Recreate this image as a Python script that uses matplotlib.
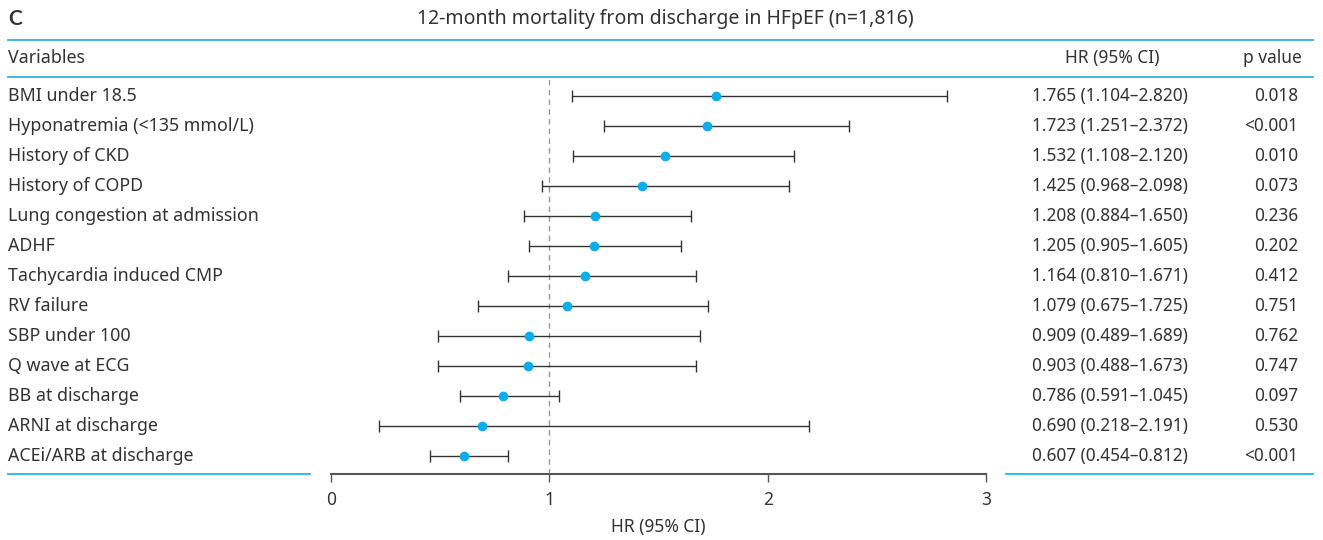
import numpy as np
import matplotlib.pyplot as plt
from matplotlib.lines import Line2D

variables = ["BMI under 18.5", "Hyponatremia (<135 mmol/L)", "History of CKD", "History of COPD",
             "Lung congestion at admission", "ADHF", "Tachycardia induced CMP", "RV failure",
             "SBP under 100", "Q wave at ECG", "BB at discharge", "ARNI at discharge",
             "ACEi/ARB at discharge"]
hr = [1.765, 1.723, 1.532, 1.425, 1.208, 1.205, 1.164, 1.079, 0.909, 0.903, 0.786, 0.690, 0.607]
lo = [1.104, 1.251, 1.108, 0.968, 0.884, 0.905, 0.810, 0.675, 0.489, 0.488, 0.591, 0.218, 0.454]
hi = [2.820, 2.372, 2.120, 2.098, 1.650, 1.605, 1.671, 1.725, 1.689, 1.673, 1.045, 2.191, 0.812]
pvals = ["0.018", "<0.001", "0.010", "0.073", "0.236", "0.202", "0.412", "0.751",
         "0.762", "0.747", "0.097", "0.530", "<0.001"]
xticks = [0, 1, 2, 3]

W, H = 1323, 540
BLUE = "#29b4e6"
DOT = "#0aaeea"
TXT = "#333333"
FONT = "Noto Sans"

fig = plt.figure(figsize=(W / 100, H / 100), dpi=100)

def fx(px):
  return px / W

def fy(py):
  return 1 - py / H

# forest axes, pixel box x 331..986, y 77..474
ax = fig.add_axes([fx(331), fy(474), fx(986) - fx(331), (474 - 77) / H])
ypos = np.arange(len(variables))
hr_a, lo_a, hi_a = np.array(hr), np.array(lo), np.array(hi)
ax.errorbar(hr_a, ypos, xerr=[hr_a - lo_a, hi_a - hr_a], fmt="none", ecolor="#333333",
            elinewidth=1.0, capsize=4, capthick=1.0, zorder=2)
ax.plot(hr_a, ypos, "o", color=DOT, ms=6, zorder=3)
ax.axvline(1, color="#999999", lw=1, ls=(0, (4, 3)), zorder=1)
ax.set_xlim(0, 3)
ax.set_ylim((474 - 96) / 30, (77 - 96) / 30)
for s in ["top", "right", "left"]:
  ax.spines[s].set_visible(False)
ax.spines["bottom"].set_color("#555555")
ax.spines["bottom"].set_linewidth(1.5)
ax.set_yticks([])
ax.set_xticks(xticks)
ax.tick_params(axis="x", length=6, width=1, color="#555555", labelsize=12.5, labelcolor=TXT, pad=6)
for lab in ax.get_xticklabels():
  lab.set_fontfamily(FONT)
ax.patch.set_alpha(0)

# x axis title, centred under the axis
fig.text(fx(658), fy(527), "HR (95% CI)", fontsize=12.5, color=TXT, family=FONT,
         ha="center", va="center")

# blue rule lines
def hline(y, x0, x1):
  fig.add_artist(Line2D([fx(x0), fx(x1)], [fy(y), fy(y)], color=BLUE, lw=1.3))

hline(40, 8, 1313)
hline(77, 8, 1313)
hline(474, 8, 310)
hline(474, 1006, 1313)

# titles and header
fig.text(fx(8), fy(19), "C", fontsize=15, fontweight="bold", color=TXT, family="Lato", va="center")
fig.text(fx(665), fy(19), "12-month mortality from discharge in HFpEF (n=1,816)", fontsize=14,
         color=TXT, family=FONT, va="center", ha="center")
fig.text(fx(8), fy(58), "Variables", fontsize=12.8, color=TXT, family=FONT, va="center")
fig.text(fx(1112), fy(58), "HR (95% CI)", fontsize=12.5, color=TXT, family=FONT, va="center", ha="center")
fig.text(fx(1272), fy(58), "p value", fontsize=12.5, color=TXT, family=FONT, va="center", ha="center")

for i, name in enumerate(variables):
  y = 96 + 30 * i
  fig.text(fx(8), fy(y), name, fontsize=12.8, color=TXT, family=FONT, va="center")
  fig.text(fx(1110), fy(y), f"{hr[i]:.3f} ({lo[i]:.3f}\u2013{hi[i]:.3f})", fontsize=12.4,
           color=TXT, family=FONT, va="center", ha="center")
  fig.text(fx(1298), fy(y), pvals[i], fontsize=12.4, color=TXT, family=FONT, va="center", ha="right")

fig.savefig("out.png", dpi=100)
